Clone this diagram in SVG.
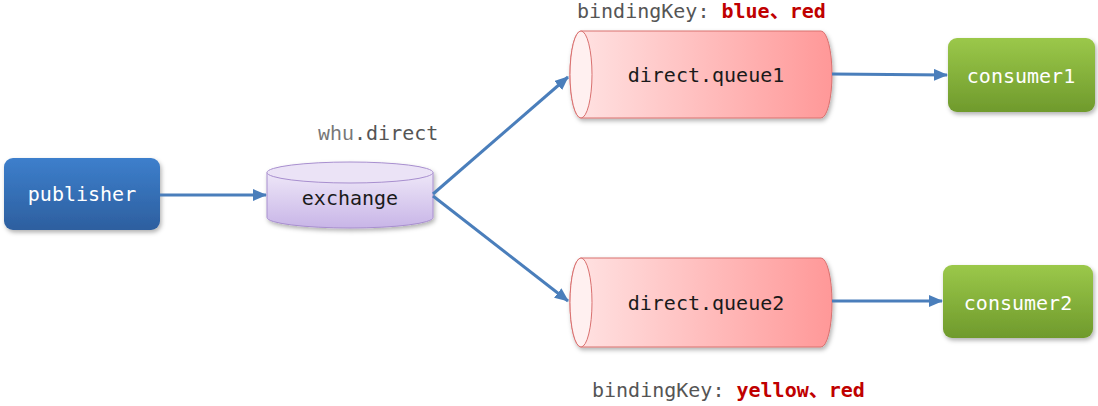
<svg xmlns="http://www.w3.org/2000/svg" width="1098" height="406" viewBox="0 0 1098 406">
<style>
.lbl{font-family:"DejaVu Sans Mono","Liberation Mono","Noto Sans CJK SC",monospace;font-size:20px;}
.w{fill:#ffffff;text-anchor:middle;}
.k{fill:#1a1a1a;text-anchor:middle;}
.g{fill:#555555;}
.r{fill:#c00000;font-weight:bold;}
.conn{stroke:#4a7ebb;stroke-width:3;fill:none;marker-end:url(#ah);}
</style>
<defs>
<marker id="ah" markerUnits="userSpaceOnUse" markerWidth="14" markerHeight="12" refX="13" refY="6" orient="auto">
<path d="M0,0 L14,6 L0,12 Z" fill="#4a7ebb"/>
</marker>
<filter id="sh" x="-10%" y="-10%" width="130%" height="140%">
<feDropShadow dx="1.5" dy="2.5" stdDeviation="2" flood-color="#000" flood-opacity="0.3"/>
</filter>
<linearGradient id="gBlue" x1="0" y1="0" x2="0" y2="1">
<stop offset="0" stop-color="#3d7fcc"/><stop offset="1" stop-color="#2d5f9f"/>
</linearGradient>
<linearGradient id="gGreen" x1="0" y1="0" x2="0" y2="1">
<stop offset="0" stop-color="#9bc84a"/><stop offset="1" stop-color="#6f9a2c"/>
</linearGradient>
<linearGradient id="gPurple" x1="0" y1="0" x2="0" y2="1">
<stop offset="0" stop-color="#eee7f8"/><stop offset="1" stop-color="#c8b5e7"/>
</linearGradient>
<linearGradient id="gRed" x1="0" y1="0" x2="1" y2="0">
<stop offset="0" stop-color="#ffe4e4"/><stop offset="1" stop-color="#ff9898"/>
</linearGradient>
</defs>

<g id="publisher">
<rect x="4" y="158" width="156" height="72" rx="9" fill="url(#gBlue)" filter="url(#sh)"/>
<text class="lbl w" x="82" y="201">publisher</text>
</g>

<g id="exchange">
<g filter="url(#sh)">
<path d="M267,172.5 V217.5 A83,10.5 0 0 0 433,217.5 V172.5 Z" fill="url(#gPurple)" stroke="#a88fcf" stroke-width="1"/>
<ellipse cx="350" cy="172.5" rx="83" ry="10.5" fill="#ebe3f6" stroke="#a88fcf" stroke-width="1"/>
</g>
<text class="lbl k" x="350" y="205">exchange</text>
<text class="lbl g" x="318" y="140"><tspan font-family="Liberation Mono, monospace" fill="#777">whu</tspan>.direct</text>
</g>

<g id="queue1">
<g filter="url(#sh)">
<path d="M581,31 H821 A11,43.5 0 0 1 821,118 H581 A11,43.5 0 0 1 581,31 Z" fill="url(#gRed)" stroke="#d9706f" stroke-width="1"/>
<ellipse cx="581" cy="74.5" rx="11" ry="43.5" fill="#fff0f0" stroke="#d9706f" stroke-width="1"/>
</g>
<text class="lbl k" x="706" y="82">direct.queue1</text>
<text class="lbl" x="577" y="18"><tspan class="g">bindingKey: </tspan><tspan class="r">blue、red</tspan></text>
</g>

<g id="queue2">
<g filter="url(#sh)">
<path d="M581,258 H821 A11,44.5 0 0 1 821,347 H581 A11,44.5 0 0 1 581,258 Z" fill="url(#gRed)" stroke="#d9706f" stroke-width="1"/>
<ellipse cx="581" cy="302.5" rx="11" ry="44.5" fill="#fff0f0" stroke="#d9706f" stroke-width="1"/>
</g>
<text class="lbl k" x="706" y="310">direct.queue2</text>
<text class="lbl" x="592" y="397"><tspan class="g">bindingKey: </tspan><tspan class="r">yellow、red</tspan></text>
</g>

<g id="consumer1">
<rect x="948" y="38" width="147" height="74" rx="9" fill="url(#gGreen)" filter="url(#sh)"/>
<text class="lbl w" x="1021" y="83">consumer1</text>
</g>

<g id="consumer2">
<rect x="943" y="265" width="150" height="73" rx="9" fill="url(#gGreen)" filter="url(#sh)"/>
<text class="lbl w" x="1018" y="310">consumer2</text>
</g>

<g id="connectors">
<line class="conn" x1="160" y1="195" x2="266" y2="195"/>
<line class="conn" x1="433" y1="194" x2="568" y2="77"/>
<line class="conn" x1="433" y1="196" x2="568" y2="301"/>
<line class="conn" x1="832" y1="74" x2="947" y2="75"/>
<line class="conn" x1="832" y1="301" x2="942" y2="301"/>
</g>
</svg>
